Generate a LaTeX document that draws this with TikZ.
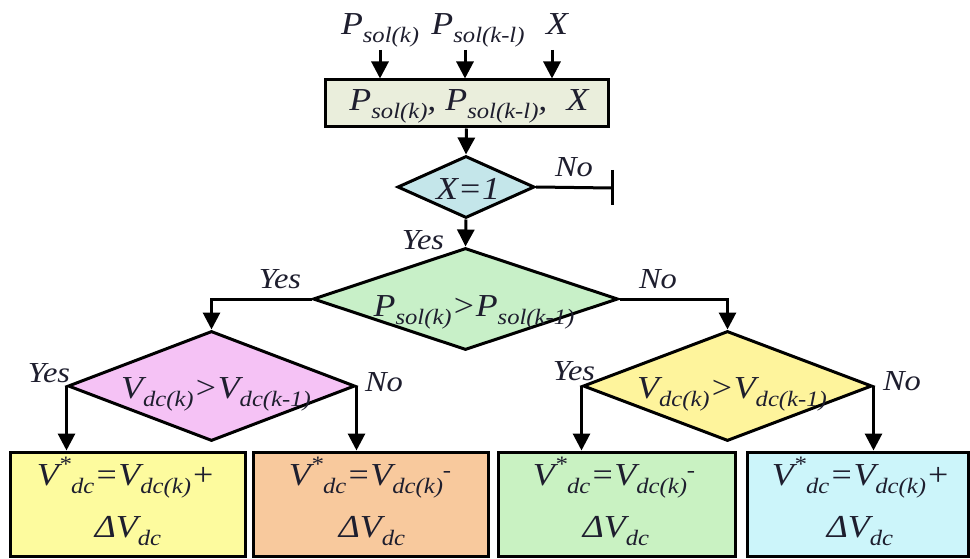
\documentclass[tikz,border=0pt]{standalone}
\usepackage{fontspec}
\setmainfont{Liberation Serif}[FakeStretch=1.12]
\usetikzlibrary{shapes.geometric,arrows.meta}
\definecolor{ink}{HTML}{1E1E2E}
\definecolor{ctop}{HTML}{EAEEDC}
\definecolor{cxd}{HTML}{C4E6EA}
\definecolor{cbig}{HTML}{C8F0C8}
\definecolor{cpink}{HTML}{F5C2F5}
\definecolor{cyel}{HTML}{FEF49C}
\definecolor{cbA}{HTML}{FDFB9E}
\definecolor{cbB}{HTML}{F8C99D}
\definecolor{cbC}{HTML}{C9F2C2}
\definecolor{cbD}{HTML}{CCF5FA}
\newcommand{\sbsz}{\fontsize{22}{22}\selectfont}
\newcommand{\lo}[1]{\raisebox{-0.25em}{\sbsz #1}}
\newcommand{\hi}[1]{\raisebox{0.42em}{\sbsz #1}}
\newcommand{\Vstar}{V\hi{*}\lo{dc}}
\newcommand{\mn}{\raisebox{0.25em}{\sbsz -}}
\tikzset{
  ln/.style={line width=3pt, draw=black},
  arr/.style={ln, -{Triangle[length=17pt,width=17pt]}},
  dia/.style={diamond, draw=black, line width=3pt, inner sep=0pt},
  rbox/.style={rectangle, draw=black, line width=3pt, inner sep=0pt},
  lbl/.style={inner sep=0pt, anchor=base, text=ink, font=\fontsize{29}{29}\selectfont\itshape},
  big/.style={inner sep=0pt, anchor=base, text=ink, font=\fontsize{32}{32}\selectfont\itshape},
}
\begin{document}
\begin{tikzpicture}[x=1pt,y=-1pt]
\useasboundingbox (0,0) rectangle (970,559);
% top inputs
\node[big] (in1) at (380,35) {P\lo{sol(k)}};
\node[big] (in2) at (478,35) {P\lo{sol(k-l)}};
\node[big] (in3) at (557,35) {X};
\coordinate (a1) at (380,50);
\coordinate (a2) at (465,50);
\coordinate (a3) at (552,50);
\node[rbox, fill=ctop, minimum width=283pt, minimum height=47pt] (top) at (466.5,103.5) {};
\node[big] (toptxt) at (469,111) {P\lo{sol(k)}, P\lo{sol(k-l)},\hspace{0.6em}X};
\draw[arr] (a1) -- (a1 |- top.north);
\draw[arr] (a2) -- (a2 |- top.north);
\draw[arr] (a3) -- (a3 |- top.north);
% X=1 diamond
\node[dia, fill=cxd, minimum width=137pt, minimum height=62pt] (d1) at (466,187) {};
\node[big] (d1t) at (468,200) {X=1};
\draw[arr] (top.south) -- (d1.north);
\coordinate (stop) at (612,188);
\coordinate (stopt) at (612,170);
\coordinate (stopb) at (612,205);
\draw[ln] (d1.east) -- (stop);
\draw[ln] (stopt) -- (stopb);
\node[lbl] (no1) at (574,177) {No};
% big diamond
\node[dia, fill=cbig, minimum width=305pt, minimum height=102pt] (d2) at (465.5,299) {};
\node[big] (d2t) at (474,316) {P\lo{sol(k)}>P\lo{sol(k-1)}};
\draw[arr] (d1.south) -- (d2.north);
\node[lbl] (yes1) at (423,250) {Yes};
% pink and yellow diamonds
\node[dia, fill=cpink, minimum width=287pt, minimum height=110pt] (pd) at (211.5,386) {};
\node[big] (pdt) at (216,398) {V\lo{dc(k)}>V\lo{dc(k-1)}};
\node[dia, fill=cyel, minimum width=289pt, minimum height=110pt] (yd) at (727.5,386) {};
\node[big] (ydt) at (732,398) {V\lo{dc(k)}>V\lo{dc(k-1)}};
\draw[arr] (d2.west) -| (pd.north);
\draw[arr] (d2.east) -| (yd.north);
\node[lbl] (yes2) at (280,288) {Yes};
\node[lbl] (no2) at (658,288) {No};
% bottom boxes
\node[rbox, fill=cbA, minimum width=235pt, minimum height=104pt] (b1) at (127.5,504) {};
\node[rbox, fill=cbB, minimum width=235pt, minimum height=104pt] (b2) at (370.5,504) {};
\node[rbox, fill=cbC, minimum width=237pt, minimum height=104pt] (b3) at (616.5,504) {};
\node[rbox, fill=cbD, minimum width=221pt, minimum height=104pt] (b4) at (857.5,504) {};
\node[big] (t1a) at (126,485) {\Vstar=V\lo{dc(k)}+};
\node[big] (t1b) at (128,537) {ΔV\lo{dc}};
\node[big] (t2a) at (370,485) {\Vstar=V\lo{dc(k)}\mn};
\node[big] (t2b) at (372,537) {ΔV\lo{dc}};
\node[big] (t3a) at (614,485) {\Vstar=V\lo{dc(k)}\mn};
\node[big] (t3b) at (616,537) {ΔV\lo{dc}};
\node[big] (t4a) at (861,485) {\Vstar=V\lo{dc(k)}+};
\node[big] (t4b) at (860,537) {ΔV\lo{dc}};
\draw[arr] (pd.west) -- (pd.west |- b1.north);
\draw[arr] (pd.east) -- (pd.east |- b2.north);
\draw[arr] (yd.west) -- (yd.west |- b3.north);
\draw[arr] (yd.east) -- (yd.east |- b4.north);
\node[lbl] (yes3) at (49,382) {Yes};
\node[lbl] (no3) at (384,391) {No};
\node[lbl] (yes4) at (574,380) {Yes};
\node[lbl] (no4) at (902,390) {No};
\end{tikzpicture}
\end{document}
